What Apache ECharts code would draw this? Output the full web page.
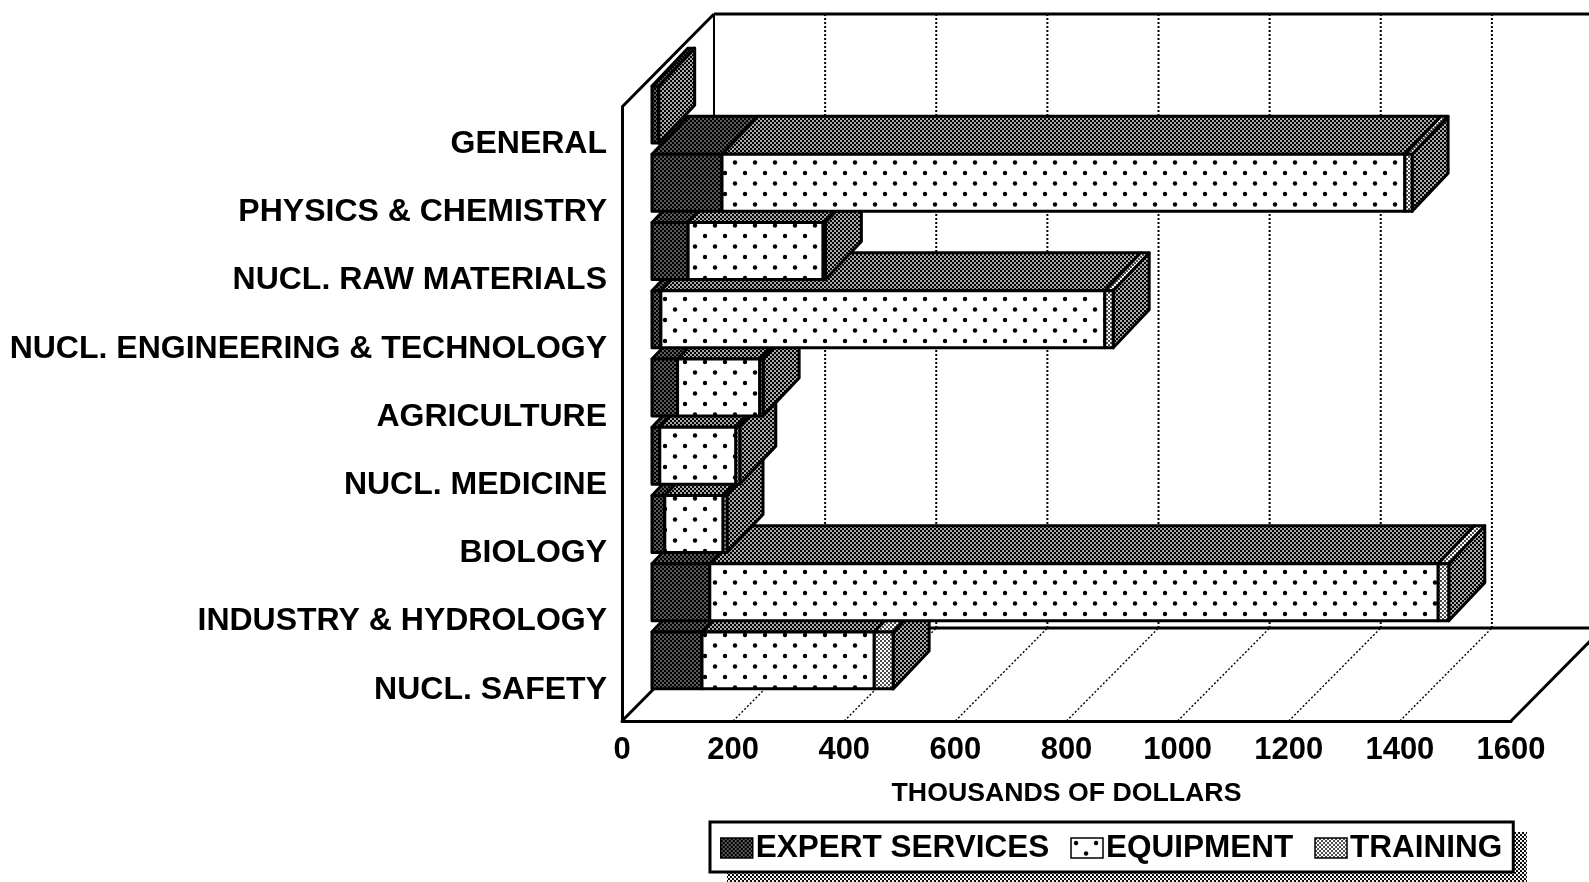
<!DOCTYPE html>
<html>
<head>
<meta charset="utf-8">
<title>Thousands of dollars by field</title>
<style>
  html, body { margin: 0; padding: 0; background: #fff; }
  #chart { width: 1589px; height: 882px; }
</style>
<script src="https://cdn.jsdelivr.net/npm/echarts@6/dist/echarts.min.js"></script>
</head>
<body>
<div id="chart"></div>
<script>
const categories = ['GENERAL', 'PHYSICS & CHEMISTRY', 'NUCL. RAW MATERIALS', 'NUCL. ENGINEERING & TECHNOLOGY',
  'AGRICULTURE', 'NUCL. MEDICINE', 'BIOLOGY', 'INDUSTRY & HYDROLOGY', 'NUCL. SAFETY'];
const expertServices = [12, 126, 65, 16, 46, 14, 23, 104, 90];
const equipment = [0, 1229, 243, 799, 148, 137, 105, 1311, 310];
const training = [0, 13, 4, 15, 6, 7, 7, 19, 34];
const xTicks = [0, 200, 400, 600, 800, 1000, 1200, 1400, 1600];

const FONT = '"Liberation Sans", Arial, sans-serif';
const DEPTH = [92, -93]; // box depth, floor front edge to back wall
const BAR_OFFSET = [30, -26.5]; // bar front face sits this far into the box
const BAR_DEPTH = [36, -38];
const BAR_RATIO = 0.835;
const EDGE = 3;

// little tiles for the halftone look of the print
function tile(w, h, bg, fg, dots, size) {
  const c = document.createElement('canvas');
  c.width = w;
  c.height = h;
  const ctx = c.getContext('2d');
  ctx.fillStyle = bg;
  ctx.fillRect(0, 0, w, h);
  ctx.fillStyle = fg;
  dots.forEach((d) => {
    ctx.beginPath();
    ctx.arc(d[0], d[1], size, 0, Math.PI * 2);
    ctx.fill();
  });
  return { image: c, repeat: 'repeat' };
}
const darkFill = tile(4, 4, '#000', '#fff', [[1, 1], [3, 3]], 0.65);
const shadeFill = tile(4, 4, '#000', '#fff', [[1, 1], [3, 3]], 0.88);
const dotFill = tile(20, 21, '#fff', '#000', [[5, 5], [15, 15.5]], 2.2);
const lightFill = tile(4, 4, '#fff', '#000', [[1, 1], [3, 3]], 0.95);
const shadowFill = tile(4, 4, '#000', '#fff', [[1, 1], [3, 3]], 1.15);

const faceFills = [darkFill, dotFill, lightFill];
const topFills = [darkFill, shadeFill, lightFill];

function toRows(values, seg) {
  return values.map((v, i) => {
    const before = (seg > 0 ? expertServices[i] : 0) + (seg > 1 ? equipment[i] : 0);
    const rest = (seg < 1 ? equipment[i] : 0) + (seg < 2 ? training[i] : 0);
    return [before, before + v, i, rest === 0 ? 1 : 0];
  }).filter((r) => r[1] > r[0]);
}

function poly(points, fill, z2) {
  return {
    type: 'polygon',
    z2,
    shape: { points },
    style: { fill, stroke: '#000', lineWidth: EDGE, lineJoin: 'round' },
  };
}

function segmentRenderer(seg) {
  return function (params, api) {
    const cat = api.value(2);
    const a = api.coord([api.value(0), cat]);
    const b = api.coord([api.value(1), cat]);
    const half = api.size([0, 1])[1] * BAR_RATIO / 2;
    const x0 = a[0] + BAR_OFFSET[0];
    const x1 = b[0] + BAR_OFFSET[0];
    const top = a[1] + BAR_OFFSET[1] - half;
    const bottom = a[1] + BAR_OFFSET[1] + half;
    const dx = BAR_DEPTH[0];
    const dy = BAR_DEPTH[1];
    // the upper bars are painted over the lower ones, as in the print
    const base = (categories.length - cat) * 10 + seg * 3;
    const children = [
      poly([[x0, top], [x1, top], [x1 + dx, top + dy], [x0 + dx, top + dy]], topFills[seg], base),
      poly([[x0, top], [x1, top], [x1, bottom], [x0, bottom]], faceFills[seg], base + 1),
    ];
    if (api.value(3)) {
      children.unshift(poly([[x1, top], [x1 + dx, top + dy], [x1 + dx, bottom + dy], [x1, bottom]], shadeFill, base));
    }
    return { type: 'group', children };
  };
}

function seg(x1, y1, x2, y2, dotted, width) {
  return {
    type: 'line',
    shape: { x1, y1, x2, y2 },
    style: {
      stroke: '#000',
      lineWidth: width,
      lineDash: dotted ? [2, 2] : null,
    },
  };
}

function renderBox(params, api) {
  const cs = params.coordSys;
  const v = api.value(0);
  const x = api.coord([v, 0])[0];
  const top = cs.y;
  const floor = cs.y + cs.height;
  const bx = x + DEPTH[0];
  const by = floor + DEPTH[1];
  const wallTop = top + DEPTH[1];
  const children = [];
  if (v === 0) {
    children.push(seg(x, top, bx, wallTop, false, 3));
    children.push(seg(x, floor, bx, by, false, 3));
    children.push(seg(bx, wallTop, bx, by, false, 2));
    children.push(seg(bx, wallTop, bx + cs.width, wallTop, false, 3));
    children.push(seg(bx, by, bx + cs.width, by, false, 3));
  } else if (v === xTicks[xTicks.length - 1]) {
    children.push(seg(x, floor, bx, by, false, 3));
  } else {
    children.push(seg(x, floor, bx, by, true, 1.4));
    children.push(seg(bx, wallTop, bx, by, true, 2));
  }
  return { type: 'group', children };
}

const names = ['EXPERT SERVICES', 'EQUIPMENT', 'TRAINING'];

const chart = echarts.init(document.getElementById('chart'));
chart.setOption({
  animation: false,
  grid: { left: 622, top: 107, right: 78, bottom: 161 },
  xAxis: {
    type: 'value',
    min: 0,
    max: 1600,
    interval: 200,
    name: 'THOUSANDS OF DOLLARS',
    nameLocation: 'middle',
    nameGap: 59,
    nameTextStyle: { color: '#000', fontFamily: FONT, fontWeight: 'bold', fontSize: 26.7 },
    axisLine: { show: true, onZero: false, lineStyle: { color: '#000', width: 3 } },
    axisTick: { show: false },
    splitLine: { show: false },
    axisLabel: {
      color: '#000',
      fontFamily: FONT,
      fontWeight: 'bold',
      fontSize: 31,
      margin: 14,
      formatter: (v) => String(v),
    },
  },
  yAxis: {
    type: 'category',
    inverse: true,
    data: categories,
    axisLine: { lineStyle: { color: '#000', width: 3 } },
    axisTick: { show: false },
    splitLine: { show: false },
    axisLabel: {
      color: '#000',
      fontFamily: FONT,
      fontWeight: 'bold',
      fontSize: 32,
      margin: 15,
      interval: 0,
      verticalAlign: 'top',
      lineHeight: 6,
    },
  },
  legend: {
    left: 710,
    top: 822,
    padding: [10, 11, 8, 10],
    itemGap: 21,
    itemWidth: 32,
    itemHeight: 20,
    selectedMode: false,
    backgroundColor: '#fff',
    borderColor: '#000',
    borderWidth: 3,
    textStyle: { color: '#000', fontFamily: FONT, fontWeight: 'bold', fontSize: 31.5, padding: [0, 0, 0, -2] },
    data: names.map((name, i) => ({
      name,
      icon: 'rect',
      itemStyle: { color: faceFills[i], borderColor: '#000', borderWidth: 1.5 },
    })),
  },
  graphic: [{
    type: 'rect',
    z: 1,
    shape: { x: 727, y: 832, width: 800, height: 50 },
    style: { fill: shadowFill },
  }],
  series: [
    {
      type: 'custom',
      name: 'box',
      z: 1,
      clip: false,
      silent: true,
      encode: { x: 0, y: 1 },
      data: xTicks.map((v) => [v, 0]),
      renderItem: renderBox,
    },
    {
      type: 'custom',
      name: names[0],
      z: 2,
      silent: true,
      encode: { x: [0, 1], y: 2 },
      data: toRows(expertServices, 0),
      renderItem: segmentRenderer(0),
    },
    {
      type: 'custom',
      name: names[1],
      z: 2,
      silent: true,
      encode: { x: [0, 1], y: 2 },
      data: toRows(equipment, 1),
      renderItem: segmentRenderer(1),
    },
    {
      type: 'custom',
      name: names[2],
      z: 2,
      silent: true,
      encode: { x: [0, 1], y: 2 },
      data: toRows(training, 2),
      renderItem: segmentRenderer(2),
    },
  ],
});
</script>
</body>
</html>
